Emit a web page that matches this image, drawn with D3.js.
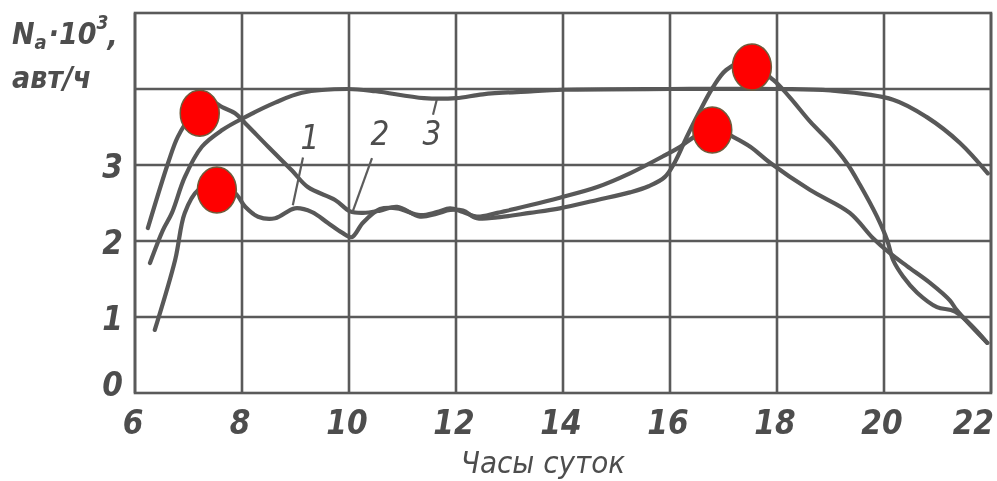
<!DOCTYPE html>
<html>
<head>
<meta charset="UTF-8">
<title>Na·10³ авт/ч — часы суток</title>
<script src="https://d3js.org/d3.v7.min.js"></script>
<style>
  body { margin: 0; padding: 0; background: #fff; }
  svg { display: block; }
  .lbl { font-family: "DejaVu Sans Condensed", "DejaVu Sans", sans-serif; font-style: italic; fill: #4e4e4e; }
  .b { font-weight: bold; }
</style>
</head>
<body>
<svg id="chart" width="997" height="481"></svg>
<script>
// оси
const hourTicks = [6, 8, 10, 12, 14, 16, 18, 20, 22];
const valueTicks = [0, 1, 2, 3];
const valueGrid = [1, 2, 3, 4];

// кривые [час, Na·10^3]
const curve1 = [
  [6.37, 0.83], [6.75, 1.75], [6.93, 2.37], [7.18, 2.67], [7.5, 2.74], [7.87, 2.63],
  [8.06, 2.45], [8.3, 2.32], [8.62, 2.30], [8.99, 2.43], [9.31, 2.38], [9.6, 2.24],
  [9.87, 2.11], [10.05, 2.05], [10.26, 2.24], [10.58, 2.42], [10.9, 2.43], [11.33, 2.34],
  [11.64, 2.38], [11.89, 2.43], [12.13, 2.38], [12.39, 2.32], [12.77, 2.37], [13.38, 2.47],
  [13.94, 2.57], [14.64, 2.71], [15.25, 2.89], [15.91, 3.13], [16.19, 3.24], [16.43, 3.36],
  [16.79, 3.50], [17.18, 3.37], [17.5, 3.24], [17.87, 3.03], [18.62, 2.67], [19.36, 2.37],
  [19.79, 2.04], [20.11, 1.84], [20.43, 1.67], [20.86, 1.45], [21.23, 1.22], [21.36, 1.09],
  [21.93, 0.66]
];
const curve2 = [
  [6.24, 2.17], [6.62, 3.03], [6.8, 3.37], [7.03, 3.62], [7.44, 3.83], [7.63, 3.76],
  [7.87, 3.68], [8.06, 3.55], [8.49, 3.24], [8.93, 2.93], [9.23, 2.71], [9.74, 2.54],
  [10.02, 2.39], [10.26, 2.37], [10.58, 2.40], [10.9, 2.45], [11.33, 2.32], [11.64, 2.36],
  [11.89, 2.41], [12.13, 2.40], [12.39, 2.30], [12.77, 2.31], [13.38, 2.37], [13.94, 2.43],
  [14.64, 2.54], [15.25, 2.64], [15.6, 2.72], [15.9, 2.84], [16.1, 3.05], [16.3, 3.35],
  [16.55, 3.7], [16.8, 4.02], [17.05, 4.25], [17.4, 4.36], [17.93, 4.12], [18.24, 3.89],
  [18.62, 3.57], [18.99, 3.30], [19.31, 3.02], [19.55, 2.74], [19.87, 2.32], [20.06, 2.01],
  [20.17, 1.75], [20.36, 1.53], [20.62, 1.32], [20.99, 1.13], [21.33, 1.07], [21.93, 0.66]
];
const curve3 = [
  [6.28, 1.71], [6.52, 2.14], [6.69, 2.37], [6.93, 2.84], [7.25, 3.24], [7.63, 3.46],
  [8.06, 3.63], [8.62, 3.82], [9.12, 3.95], [9.98, 4.0], [10.5, 3.97], [11.4, 3.88],
  [12.0, 3.88], [12.5, 3.93], [13.4, 3.97], [14.0, 3.99], [16.0, 4.0], [18.0, 4.0],
  [19.0, 3.98], [20.17, 3.86], [20.8, 3.63], [21.42, 3.29], [21.94, 2.89]
];

// красные отметки
const markers = [[7.21, 3.68], [7.53, 2.67], [16.79, 3.46], [17.53, 4.29]];

// номера кривых: текст, позиция, выноска
const curveNames = ["1", "2", "3"];
const namePos = [[9.27, 3.37], [10.58, 3.42], [11.55, 3.42]];
const leaders = [
  [[9.14, 3.1], [8.95, 2.47]],
  [[10.43, 3.09], [10.06, 2.37]],
  [[11.64, 3.86], [11.57, 3.66]]
];

const W = 997, H = 481;
const margin = { top: 13, right: 6, bottom: 88, left: 135 };

const svg = d3.select("#chart");
const x = d3.scaleLinear().domain([6, 22]).range([margin.left, W - margin.right]);
const y = d3.scaleLinear().domain([0, 5]).range([H - margin.bottom, margin.top]);

const defs = svg.append("defs");
defs.append("filter").attr("id", "scan")
  .append("feGaussianBlur").attr("stdDeviation", 0.7);

const g = svg.append("g").attr("filter", "url(#scan)");

// сетка
const grid = g.append("g").attr("stroke", "#5a5a5a").attr("stroke-width", 2.6).attr("fill", "none");
grid.selectAll("line.v").data(hourTicks).join("line")
  .attr("x1", d => x(d)).attr("x2", d => x(d))
  .attr("y1", y(0)).attr("y2", y(5));
grid.selectAll("line.h").data(valueGrid).join("line")
  .attr("x1", x(6)).attr("x2", x(22))
  .attr("y1", d => y(d)).attr("y2", d => y(d));
grid.append("rect")
  .attr("x", x(6)).attr("y", y(5))
  .attr("width", x(22) - x(6)).attr("height", y(0) - y(5));

// подписи осей
g.selectAll("text.xt").data(hourTicks).join("text")
  .attr("class", "lbl b")
  .attr("x", (d, i) => i === hourTicks.length - 1 ? x(d) + 3 : x(d) - 2)
  .attr("y", 434)
  .attr("text-anchor", (d, i) => i === hourTicks.length - 1 ? "end" : "middle")
  .attr("font-size", 33)
  .text(d => d);

g.selectAll("text.yt").data(valueTicks).join("text")
  .attr("class", "lbl b")
  .attr("x", 123)
  .attr("y", d => y(d) + (d === 0 ? 3 : 13))
  .attr("text-anchor", "end")
  .attr("font-size", 33)
  .text(d => d);

g.append("text").attr("class", "lbl")
  .attr("x", 543).attr("y", 473)
  .attr("text-anchor", "middle")
  .attr("font-size", 31)
  .text("Часы суток");

const yt = g.append("text").attr("class", "lbl b").attr("font-size", 30).attr("x", 12).attr("y", 44);
yt.append("tspan").text("N");
yt.append("tspan").attr("font-size", 20).attr("dy", 5).text("a");
yt.append("tspan").attr("dy", -5).attr("dx", 2).text("·10");
yt.append("tspan").attr("font-size", 19).attr("dy", -15).text("3");
yt.append("tspan").attr("dy", 17).attr("dx", -1).text(",");
g.append("text").attr("class", "lbl b").attr("font-size", 30)
  .attr("x", 12).attr("y", 88).text("авт/ч");

// кривые
const line = d3.line().x(d => x(d[0])).y(d => y(d[1])).curve(d3.curveCatmullRom.alpha(0.5));
g.append("g").selectAll("path").data([curve1, curve2, curve3]).join("path")
  .attr("d", line)
  .attr("fill", "none")
  .attr("stroke", "#585858")
  .attr("stroke-width", 4.2)
  .attr("stroke-linejoin", "round")
  .attr("stroke-linecap", "round");

// выноски и номера
g.append("g").selectAll("line").data(leaders).join("line")
  .attr("x1", d => x(d[0][0])).attr("y1", d => y(d[0][1]))
  .attr("x2", d => x(d[1][0])).attr("y2", d => y(d[1][1]))
  .attr("stroke", "#5c5c5c").attr("stroke-width", 2.2);
g.append("g").selectAll("text").data(curveNames).join("text")
  .attr("class", "lbl")
  .attr("x", (d, i) => x(namePos[i][0]))
  .attr("y", (d, i) => y(namePos[i][1]) + 12)
  .attr("text-anchor", "middle")
  .attr("font-size", 33)
  .text(d => d);

// отметки
svg.append("g").selectAll("ellipse").data(markers).join("ellipse")
  .attr("cx", d => x(d[0])).attr("cy", d => y(d[1]))
  .attr("rx", 19.5).attr("ry", 23)
  .attr("fill", "#ff0000")
  .attr("stroke", "#6e5c3c")
  .attr("stroke-width", 1.5);
</script>
</body>
</html>
